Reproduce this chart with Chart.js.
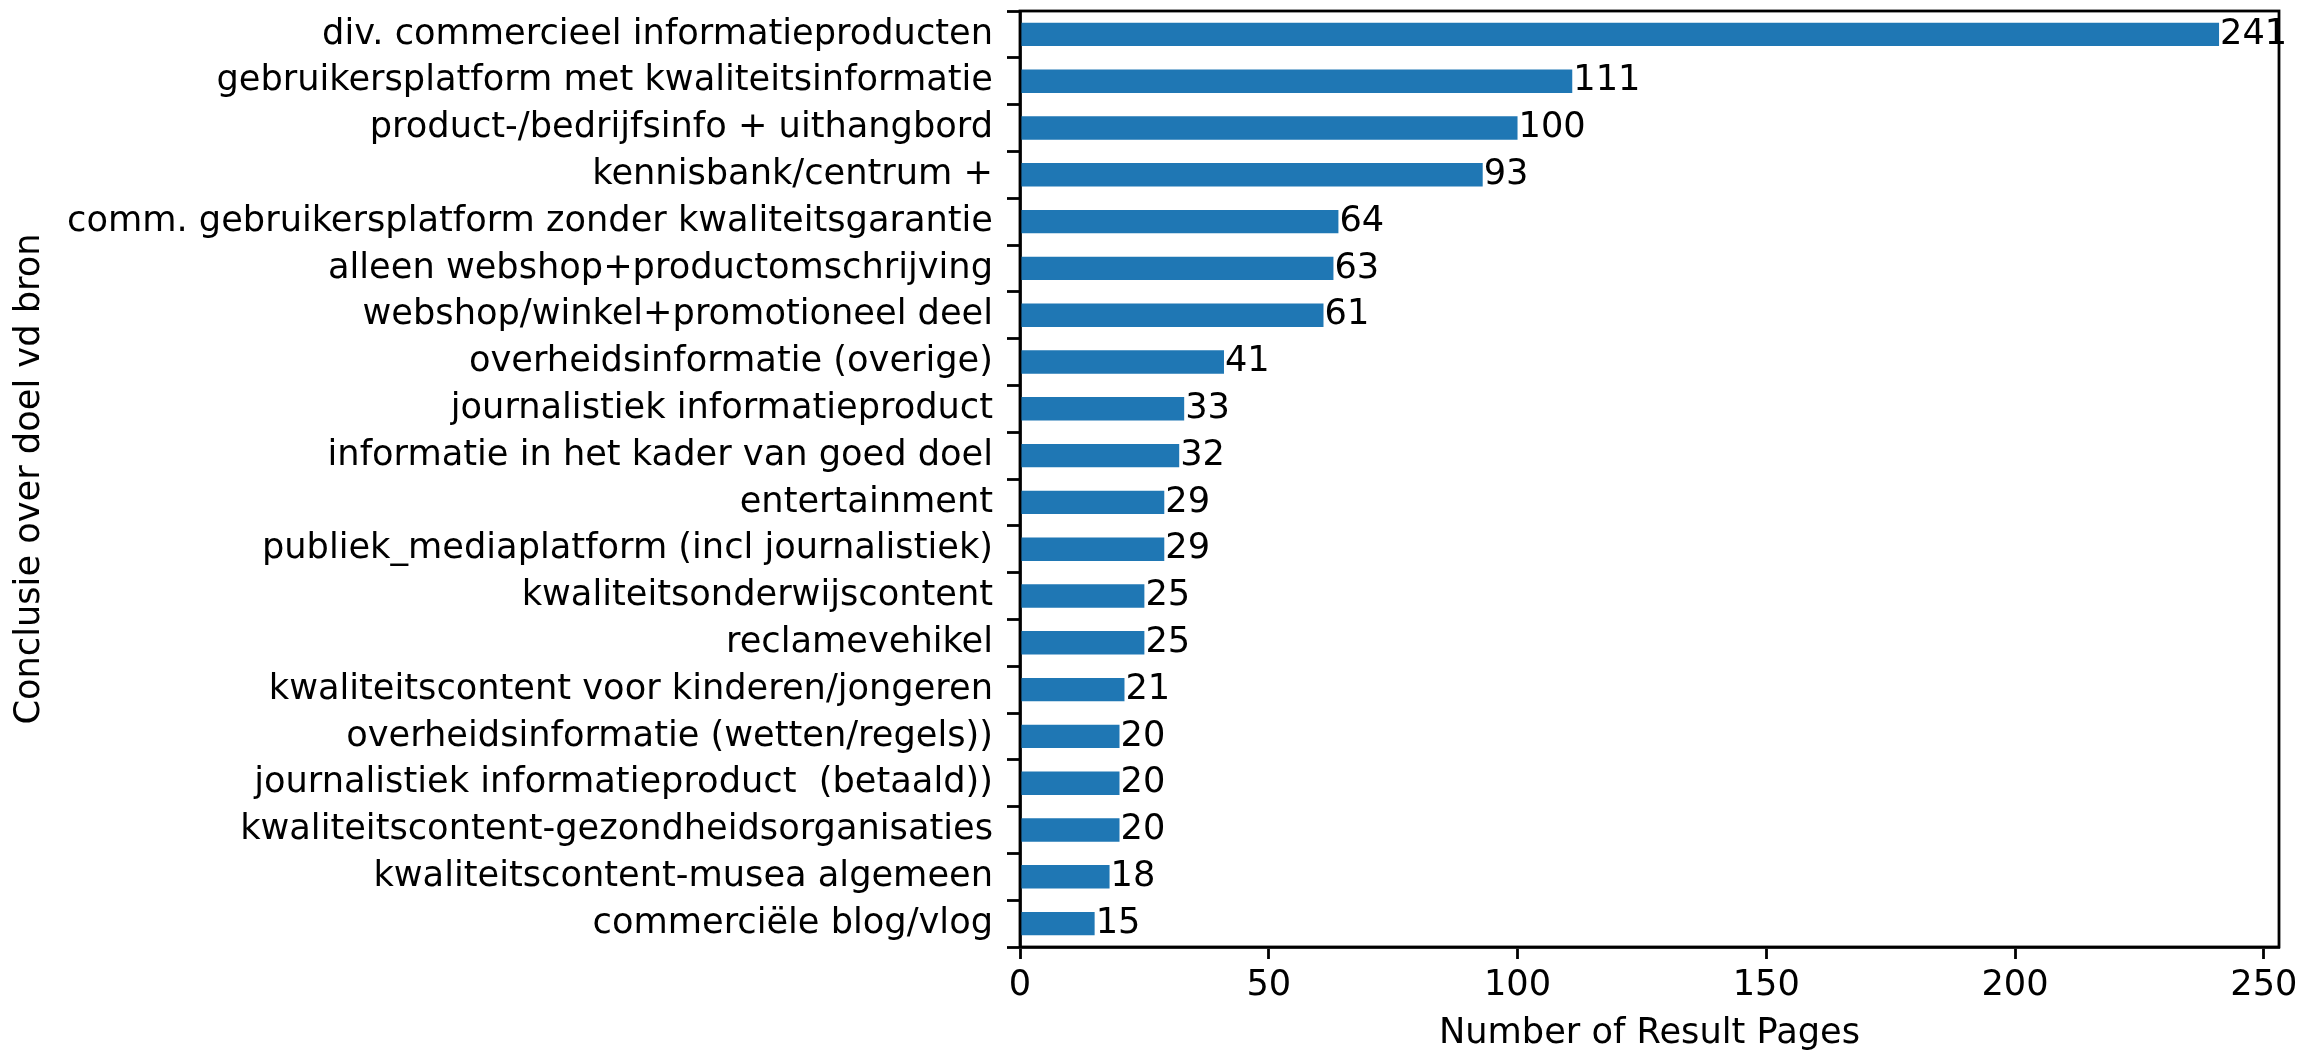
<!DOCTYPE html>
<html>
<head>
<meta charset="utf-8">
<script src="https://cdn.jsdelivr.net/npm/chart.js@4/dist/chart.umd.min.js"></script>
<style>
  html, body { margin: 0; padding: 0; background: #fff; }
  #chart { display: block; }
</style>
</head>
<body>
<canvas id="chart" width="2318" height="1055"></canvas>
<script>
const categories = [
    'div. commercieel informatieproducten',
    'gebruikersplatform met kwaliteitsinformatie',
    'product-/bedrijfsinfo + uithangbord',
    'kennisbank/centrum +',
    'comm. gebruikersplatform zonder kwaliteitsgarantie',
    'alleen webshop+productomschrijving',
    'webshop/winkel+promotioneel deel',
    'overheidsinformatie (overige)',
    'journalistiek informatieproduct',
    'informatie in het kader van goed doel',
    'entertainment',
    'publiek_mediaplatform (incl journalistiek)',
    'kwaliteitsonderwijscontent',
    'reclamevehikel',
    'kwaliteitscontent voor kinderen/jongeren',
    'overheidsinformatie (wetten/regels))',
    'journalistiek informatieproduct  (betaald))',
    'kwaliteitscontent-gezondheidsorganisaties',
    'kwaliteitscontent-musea algemeen',
    'commerciële blog/vlog'
]
const counts = [241, 111, 100, 93, 64, 63, 61, 41, 33, 32, 29, 29, 25, 25, 21, 20, 20, 20, 18, 15]
const x_ticks = [0, 50, 100, 150, 200, 250]

const FONT = 'DejaVu Sans'
const FS = 35.2
const LW = 2.8

// bar value labels, like matplotlib bar_label
const bar_labels = {
    id: 'bar_labels',
    afterDatasetsDraw(chart) {
        const ctx = chart.ctx
        const meta = chart.getDatasetMeta(0)
        ctx.save()
        ctx.font = FS + 'px "' + FONT + '"'
        ctx.fillStyle = '#000'
        ctx.textAlign = 'left'
        ctx.textBaseline = 'middle'
        meta.data.forEach((bar, i) => {
            ctx.fillText(String(counts[i]), bar.x + 1, bar.y)
        })
        ctx.restore()
    }
}

// full box around the axes
const frame = {
    id: 'frame',
    afterDraw(chart) {
        const a = chart.chartArea
        const ctx = chart.ctx
        ctx.save()
        ctx.strokeStyle = '#000'
        ctx.lineWidth = LW
        ctx.strokeRect(a.left, a.top, a.right - a.left, a.bottom - a.top)
        ctx.restore()
    }
}

const no_pad = (scale) => {
    scale.paddingTop = 0
    scale.paddingBottom = 0
    scale.paddingLeft = 0
    scale.paddingRight = 0
}

const config = {
    type: 'bar',
    data: {
        labels: categories,
        datasets: [{
            data: counts,
            backgroundColor: '#1f77b4',
            borderWidth: 0,
            categoryPercentage: 1.0,
            barPercentage: 0.5
        }]
    },
    options: {
        indexAxis: 'y',
        responsive: false,
        animation: false,
        devicePixelRatio: 1,
        layout: {
            padding: { top: 11, right: 39, bottom: 0, left: 0 }
        },
        scales: {
            x: {
                type: 'linear',
                min: 0,
                max: 253.05,
                afterBuildTicks: (scale) => {
                    scale.ticks = x_ticks.map(v => ({ value: v }))
                },
                afterFit: (scale) => { scale.height = 108; no_pad(scale) },
                grid: {
                    drawOnChartArea: false,
                    drawTicks: true,
                    tickLength: 12,
                    tickWidth: LW,
                    tickColor: '#000'
                },
                border: { display: true, color: '#000', width: LW },
                ticks: {
                    color: '#000',
                    padding: 6,
                    maxRotation: 0,
                    font: { family: FONT, size: FS }
                },
                title: {
                    display: true,
                    text: 'Number of Result Pages',
                    color: '#000',
                    padding: 0,
                    font: { family: FONT, size: FS, lineHeight: 1.2 }
                }
            },
            y: {
                type: 'category',
                afterFit: (scale) => { scale.width = 1020; no_pad(scale) },
                grid: {
                    drawOnChartArea: false,
                    drawTicks: true,
                    tickLength: 13,
                    tickWidth: LW,
                    tickColor: '#000'
                },
                border: { display: true, color: '#000', width: LW },
                ticks: {
                    color: '#000',
                    padding: 14,
                    autoSkip: false,
                    font: { family: FONT, size: FS }
                },
                title: {
                    display: true,
                    text: 'Conclusie over doel vd bron',
                    color: '#000',
                    padding: { top: 9, bottom: 0 },
                    font: { family: FONT, size: FS, lineHeight: 1.2 }
                }
            }
        },
        plugins: {
            legend: { display: false },
            tooltip: { enabled: false }
        }
    },
    plugins: [bar_labels, frame]
}

new Chart(document.getElementById('chart'), config)
</script>
</body>
</html>
